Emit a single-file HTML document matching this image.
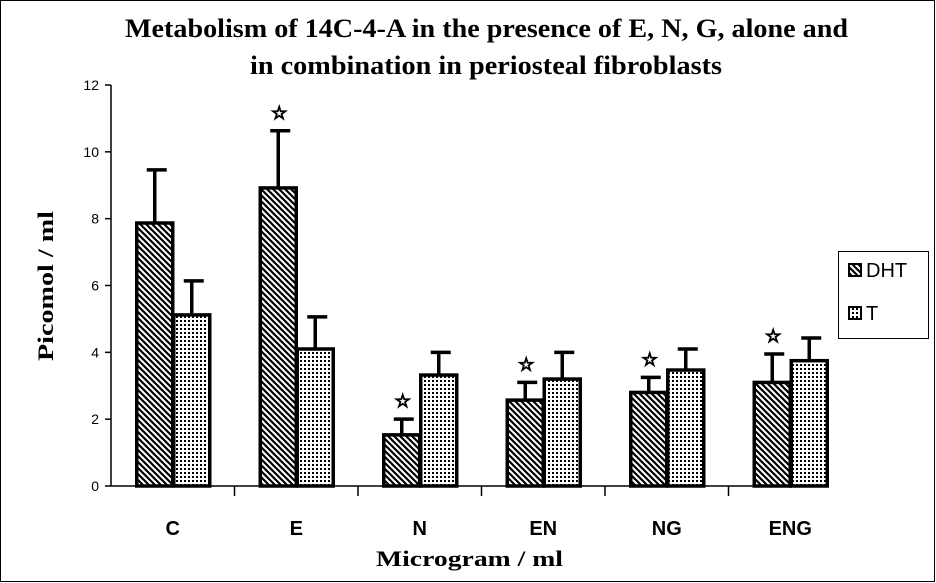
<!DOCTYPE html>
<html><head><meta charset="utf-8"><style>
body{margin:0;background:#fff}
svg{display:block}
</style></head><body>
<svg id="chart" width="936" height="583" xmlns="http://www.w3.org/2000/svg" font-family="Liberation Sans, sans-serif">
<defs>
<pattern id="hatch" width="6" height="6" patternUnits="userSpaceOnUse">
<rect width="6" height="6" fill="#fff"/>
<path d="M-1,-1 L7,7 M-4,2 L4,10 M2,-4 L10,4" stroke="#000" stroke-width="2.2"/>
</pattern>
<pattern id="dots" width="4" height="4" patternUnits="userSpaceOnUse">
<rect width="4" height="4" fill="#fff"/>
<rect x="0" y="0" width="2" height="2" fill="#000"/>
</pattern>
</defs>
<rect x="0.5" y="0.5" width="934" height="581" fill="#fff" stroke="#000"/>
<text x="125" y="37" textLength="723" lengthAdjust="spacingAndGlyphs" font-family="Liberation Serif, serif" font-weight="bold" font-size="26">Metabolism of 14C-4-A in the presence of E, N, G, alone and</text>
<text x="250" y="74" textLength="472" lengthAdjust="spacingAndGlyphs" font-family="Liberation Serif, serif" font-weight="bold" font-size="26">in combination in periosteal fibroblasts</text>
<text transform="translate(53,361) rotate(-90)" textLength="150" lengthAdjust="spacingAndGlyphs" font-family="Liberation Serif, serif" font-weight="bold" font-size="22">Picomol / ml</text>
<text x="376" y="566" textLength="187" lengthAdjust="spacingAndGlyphs" font-family="Liberation Serif, serif" font-weight="bold" font-size="22">Microgram / ml</text>
<g id="axes"></g>
<g id="bars"></g>
<rect x="838.5" y="251.5" width="90" height="87" fill="#fff" stroke="#000"/>
<rect x="849" y="264" width="12" height="12" fill="url(#hatch)" stroke="#000" stroke-width="2"/>
<text x="866" y="277" font-size="20">DHT</text>
<rect x="849" y="307" width="12" height="12" fill="url(#dots)" stroke="#000" stroke-width="2"/>
<text x="866" y="320" font-size="20">T</text>
</svg>
<script>
const categories=["C","E","N","EN","NG","ENG"];
const dhtValues=[7.87,8.92,1.53,2.57,2.8,3.1];
const dhtErrors=[9.46,10.63,2.0,3.1,3.25,3.95];
const tValues=[5.12,4.1,3.32,3.2,3.47,3.75];
const tErrors=[6.14,5.06,4.0,4.0,4.1,4.43];
const stars=[false,true,true,true,true,true];
const yTicks=[0,2,4,6,8,10,12];
const NS="http://www.w3.org/2000/svg";
const x0=111,catW=123.5,yBase=486,yTop=85,yMax=12,barW=36;
const y=v=>yBase-(v/yMax)*(yBase-yTop);
const xc=i=>x0+catW*(i+0.5);
function mk(tag,at,parent){const e=document.createElementNS(NS,tag);for(const k in at)e.setAttribute(k,at[k]);parent.appendChild(e);return e;}
const ax=document.getElementById('axes');
let l=mk('line',{x1:x0,y1:yTop,x2:x0,y2:yBase,stroke:'#000','stroke-width':1.5},ax);


l=mk('line',{x1:x0,y1:yBase,x2:822,y2:yBase,stroke:'#000','stroke-width':1.5},ax);


yTicks.forEach(t=>{
 const tk=mk('line',{x1:x0-6,y1:y(t),x2:x0,y2:y(t),stroke:'#000','stroke-width':1.5},ax);
 
 
 const tx=mk('text',{x:x0-12,y:y(t)+5,'text-anchor':'end','font-size':14},ax);
 tx.textContent=t;
 
 
});
categories.forEach((c,i)=>{
 if(i>0){const tk=mk('line',{x1:x0+catW*i,y1:yBase,x2:x0+catW*i,y2:yBase+10,stroke:'#000','stroke-width':1.5},ax);
 
 }
 const tx=mk('text',{x:xc(i),y:535,'text-anchor':'middle','font-size':20,'font-weight':'bold'},ax);
 tx.textContent=c;
 
 
});
const bg=document.getElementById('bars');
function bar(xl,v,e,fill,name){
 const cx=xl+barW/2;
 const el=mk('line',{x1:cx,y1:y(v),x2:cx,y2:y(e),stroke:'#000','stroke-width':3.5},bg);
 
 
 const cap=mk('line',{x1:cx-8,y1:y(e),x2:cx+12,y2:y(e),stroke:'#000','stroke-width':3.5},bg);
 
 
 const r=mk('rect',{x:xl,y:y(v),width:barW,height:yBase-y(v),fill:fill,stroke:'#000','stroke-width':3.5},bg);
 
 
}
categories.forEach((c,i)=>{
 const c0=xc(i);
 bar(c0-barW,dhtValues[i],dhtErrors[i],'url(#hatch)','bar-dht-'+c.toLowerCase());
 bar(c0+1,tValues[i],tErrors[i],'url(#dots)','bar-t-'+c.toLowerCase());
 if(stars[i]){
  const s=mk('text',{x:c0-barW/2+1,y:y(dhtErrors[i])-12,'text-anchor':'middle','font-size':18,'font-family':'DejaVu Sans, sans-serif',stroke:'#000','stroke-width':1.3},bg);
  s.textContent='☆';
  
  
 }
});
</script>
</body></html>
